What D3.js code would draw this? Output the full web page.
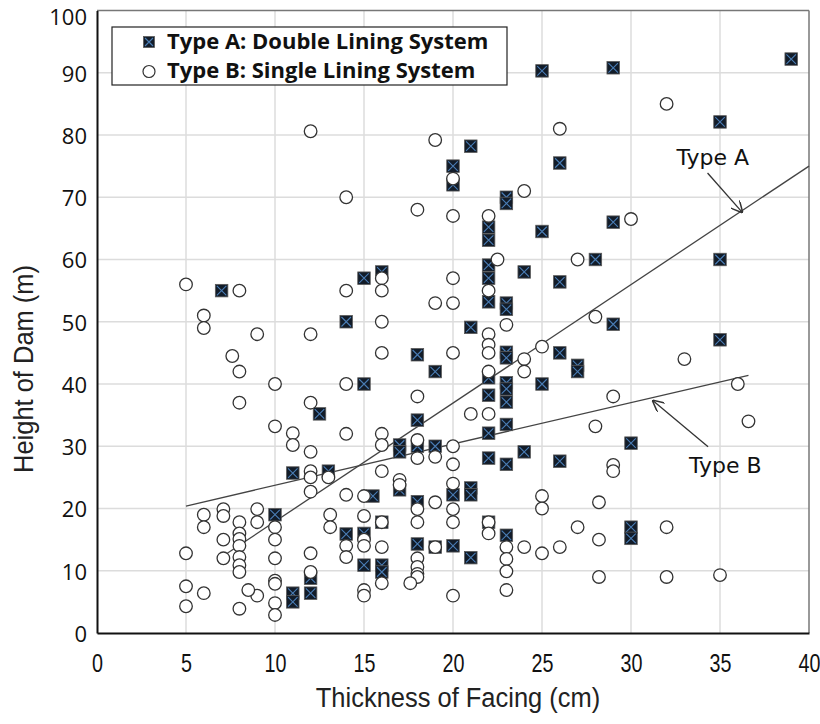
<!DOCTYPE html>
<html>
<head>
<meta charset="utf-8">
<script src="https://cdn.jsdelivr.net/npm/d3@7"></script>
<style>
  body { margin: 0; background: #fff; }
  .tick-y { font-family: "Open Sans", sans-serif; font-size: 22px; fill: #111; }
  .tick-x { font-family: "Liberation Sans", Arial, sans-serif; font-size: 26px; fill: #111; }
  .axis-title { font-family: "Liberation Sans", Arial, sans-serif; font-size: 28px; fill: #222; }
  .legend-text { font-family: "Open Sans", sans-serif; font-weight: bold; font-size: 22px; fill: #111; }
  .note { font-family: "DejaVu Sans", sans-serif; font-size: 22px; fill: #111; }
</style>
</head>
<body>
<div id="chart"></div>
<script>
var svgWidth = 820;
var svgHeight = 724;

var margin = { top: 10.5, right: 11, bottom: 91, left: 97 };
var width = svgWidth - margin.left - margin.right;
var height = svgHeight - margin.top - margin.bottom;

// Type A: Double Lining System (thickness cm, height m)
var typeAX = [7, 39, 25, 29, 35, 21, 20, 20, 26, 23, 23, 22, 22, 25, 28, 22, 16, 15, 22, 24,
  26, 22, 23, 23, 14, 21, 23, 23, 26, 27, 27, 18, 19, 22, 23, 23, 15, 25, 22, 23,
  29, 35, 29, 35, 30, 30, 30, 18, 23, 22, 12.5, 17, 17, 18, 19, 22, 23, 24, 26, 17,
  15.5, 20, 21, 21, 18, 16, 22, 23, 14, 15, 18, 19, 20, 21, 15, 16, 16, 11, 13, 10,
  12, 12, 11, 11];
var typeAY = [55, 92.2, 90.3, 90.8, 82.1, 78.2, 75, 72, 75.5, 70, 69, 65.2, 63.1, 64.5, 60, 59.1, 58, 57, 57, 58,
  56.4, 53.2, 53, 52, 50, 49.1, 45.1, 44.2, 45, 43, 42, 44.7, 42, 41, 40.2, 39.2, 40, 40, 38.2, 37.1,
  66, 60, 49.6, 47.1, 30.5, 17, 15.2, 34.2, 33.5, 32.1, 35.2, 30.2, 29.1, 30, 30, 28.1, 27.1, 29.1, 27.6, 23,
  22, 22.2, 23.3, 22.2, 21.1, 17.8, 17.8, 15.7, 15.9, 16, 14.3, 13.8, 14, 12.1, 10.9, 10.9, 9.8, 25.7, 26, 19,
  8.8, 6.4, 6.4, 5];

// Type B: Single Lining System
var typeBX = [5, 8, 6, 6, 9, 12, 7.6, 8, 10, 14, 8, 12, 10, 11, 11, 12, 14, 12, 12, 13,
  12, 14, 6, 6, 7.1, 7.1, 8, 9, 9, 13.1, 13.1, 10, 7.1, 8, 8, 8, 8, 8, 8, 10,
  10, 5, 7.1, 12, 14, 14, 12, 10, 10, 10, 10, 9, 8.5, 8, 5, 6, 5,
  12, 14, 14, 16, 16, 16, 16, 20, 18, 20, 22, 22.5, 27, 20, 22, 19, 20, 23, 22, 22,
  22, 24, 24, 25, 22, 18, 21, 22, 28, 28, 26, 19, 20, 24, 32, 30, 33, 36, 29, 36.6,
  29, 29, 28.2, 27, 32, 28.2, 28.2, 32, 35,
  16, 16, 18, 20, 18, 19, 20, 16, 17, 17, 15, 20, 19, 20, 18, 15, 16, 18, 20, 22,
  25, 25, 22, 15, 15, 16, 18, 18, 18, 18, 19, 23, 23, 23, 23, 24, 25, 26, 17.6, 20,
  16, 15, 15];
var typeBY = [56, 55, 51, 49, 48, 48, 44.5, 42, 40, 40, 37, 37, 33.2, 32.1, 30.2, 29.1, 32, 26, 25, 25,
  22.7, 22.2, 19, 17, 19.9, 18.8, 17.8, 19.9, 17.8, 19, 17, 17, 15, 16, 15.1, 14, 12.2, 10.9, 9.8, 15,
  12, 12.8, 12, 12.8, 14, 12.2, 9.8, 8.4, 7.9, 4.8, 2.9, 6, 6.9, 3.9, 7.5, 6.4, 4.3,
  80.6, 70, 55, 57, 55, 50, 45, 45, 68, 67, 67, 60, 60, 57, 55, 53, 53, 49.5, 48, 46.3,
  45, 44, 42, 46, 42, 38, 35.2, 35.2, 33.2, 50.8, 81, 79.2, 73, 71, 85, 66.5, 44, 40, 38, 34,
  27, 26, 21, 17, 17, 15, 9, 9, 9.3,
  32, 30.2, 31, 30, 28.1, 28.3, 27.1, 26, 24.6, 23.8, 22, 24, 21, 19.9, 19.9, 18.8, 17.8, 17.8, 17.8, 17.8,
  22, 20, 16, 15, 14, 13.8, 12, 10.6, 9.5, 9, 13.8, 13.8, 11.9, 9.9, 6.9, 13.8, 12.8, 13.8, 8, 6,
  8, 6.9, 6];

// trend lines (end points)
var lineAX = [7, 40];
var lineAY = [12.2, 75];
var lineBX = [5, 36.6];
var lineBY = [20.4, 41.4];

var xTicks = [0, 5, 10, 15, 20, 25, 30, 35, 40];
var yTicks = [0, 10, 20, 30, 40, 50, 60, 70, 80, 90, 100];

var legendLabels = ["Type A: Double Lining System", "Type B: Single Lining System"];

// annotation labels with arrows
var noteLabels = ["Type A", "Type B"];
var noteTextX = [34.6, 35.3];
var noteTextY = [75.2, 25.7];
var arrowFromX = [34.3, 34.33];
var arrowFromY = [73.9, 29.9];
var arrowToX = [36.24, 31.24];
var arrowToY = [67.6, 37.3];

var svg = d3.select("#chart")
  .append("svg")
  .attr("width", svgWidth)
  .attr("height", svgHeight);

svg.append("defs").append("marker")
  .attr("id", "arrow")
  .attr("viewBox", "0 0 10 10")
  .attr("refX", 9)
  .attr("refY", 5)
  .attr("markerWidth", 9)
  .attr("markerHeight", 9)
  .attr("orient", "auto")
  .append("path")
  .attr("d", "M0,0 L10,5 L0,10")
  .attr("fill", "none")
  .attr("stroke", "#333")
  .attr("stroke-width", 1.3);

var chart = svg.append("g")
  .attr("transform", `translate(${margin.left}, ${margin.top})`);

var xScale = d3.scaleLinear().domain([0, 40]).range([0, width]);
var yScale = d3.scaleLinear().domain([0, 100]).range([height, 0]);

// gridlines
chart.append("g")
  .selectAll("line")
  .data(xTicks.slice(1, -1))
  .enter()
  .append("line")
  .attr("x1", d => xScale(d)).attr("x2", d => xScale(d))
  .attr("y1", 0).attr("y2", height)
  .attr("stroke", "#dcdcdc").attr("stroke-width", 1.5);

chart.append("g")
  .selectAll("line")
  .data(yTicks.slice(1, -1))
  .enter()
  .append("line")
  .attr("x1", 0).attr("x2", width)
  .attr("y1", d => yScale(d)).attr("y2", d => yScale(d))
  .attr("stroke", "#dcdcdc").attr("stroke-width", 1.5);

// frame: top/right thin grey, left/bottom black
chart.append("line").attr("x1", 0).attr("x2", width).attr("y1", 0).attr("y2", 0)
  .attr("stroke", "#777").attr("stroke-width", 1.5);
chart.append("line").attr("x1", width).attr("x2", width).attr("y1", 0).attr("y2", height)
  .attr("stroke", "#777").attr("stroke-width", 1.5);

// axes (labels only, no tick marks)
var bottomAxis = d3.axisBottom(xScale).tickValues(xTicks).tickSize(0).tickPadding(21);
var leftAxis = d3.axisLeft(yScale).tickValues(yTicks).tickSize(0).tickPadding(10);

var gx = chart.append("g")
  .attr("transform", `translate(0, ${height})`)
  .call(bottomAxis)
  .attr("font-size", null).attr("font-family", null);
gx.select(".domain").attr("stroke", "#111").attr("stroke-width", 2);
gx.selectAll("text")
  .attr("class", "tick-x")
  .attr("transform", "scale(0.76, 1)");

var gy = chart.append("g")
  .call(leftAxis)
  .attr("font-size", null).attr("font-family", null);
gy.select(".domain").attr("stroke", "#111").attr("stroke-width", 2);
gy.selectAll("text")
  .attr("class", "tick-y")
  .attr("dy", d => d === 100 ? "0.62em" : "0.38em");

// axis titles (condensed)
svg.append("text")
  .attr("class", "axis-title")
  .attr("transform", `translate(${margin.left + width / 2 + 5}, 707) scale(0.91, 1)`)
  .attr("text-anchor", "middle")
  .text("Thickness of Facing (cm)");

svg.append("text")
  .attr("class", "axis-title")
  .attr("transform", "translate(33, 369) rotate(-90) scale(0.91, 1)")
  .attr("text-anchor", "middle")
  .text("Height of Dam (m)");

// trend lines
var lineGen = d3.line().x(d => xScale(d[0])).y(d => yScale(d[1]));
chart.append("path")
  .datum(d3.zip(lineAX, lineAY))
  .attr("d", lineGen)
  .attr("fill", "none").attr("stroke", "#444").attr("stroke-width", 1.3);
chart.append("path")
  .datum(d3.zip(lineBX, lineBY))
  .attr("d", lineGen)
  .attr("fill", "none").attr("stroke", "#444").attr("stroke-width", 1.3);

// square marker with X
function drawSquare(sel, s) {
  var h = s / 2;
  sel.append("rect")
    .attr("x", -h).attr("y", -h).attr("width", s).attr("height", s)
    .attr("fill", "#121c29").attr("stroke", "#5a5a5a").attr("stroke-width", 0.8);
  sel.append("path")
    .attr("d", `M${-h + 1.5},${-h + 1.5}L${h - 1.5},${h - 1.5}M${h - 1.5},${-h + 1.5}L${-h + 1.5},${h - 1.5}`)
    .attr("stroke", "#4a7db5").attr("stroke-width", 1.1);
}

var aPoints = d3.zip(typeAX, typeAY);
var bPoints = d3.zip(typeBX, typeBY);

chart.append("g")
  .selectAll("g")
  .data(aPoints)
  .enter()
  .append("g")
  .attr("transform", d => `translate(${xScale(d[0])}, ${yScale(d[1])})`)
  .each(function() { drawSquare(d3.select(this), 12.5); });

chart.append("g")
  .selectAll("circle")
  .data(bPoints)
  .enter()
  .append("circle")
  .attr("cx", d => xScale(d[0]))
  .attr("cy", d => yScale(d[1]))
  .attr("r", 6.3)
  .attr("fill", "#fff")
  .attr("stroke", "#333")
  .attr("stroke-width", 1.3);

// annotations
noteLabels.forEach(function(t, i) {
  chart.append("line")
    .attr("x1", xScale(arrowFromX[i])).attr("y1", yScale(arrowFromY[i]))
    .attr("x2", xScale(arrowToX[i])).attr("y2", yScale(arrowToY[i]))
    .attr("stroke", "#333").attr("stroke-width", 1.3)
    .attr("marker-end", "url(#arrow)");
  chart.append("text")
    .attr("class", "note")
    .attr("x", xScale(noteTextX[i]))
    .attr("y", yScale(noteTextY[i]))
    .attr("text-anchor", "middle")
    .text(t);
});

// legend
var legend = svg.append("g");
legend.append("rect")
  .attr("x", 112).attr("y", 27).attr("width", 395).attr("height", 58)
  .attr("fill", "#fff").attr("stroke", "#222").attr("stroke-width", 1.2);

drawSquare(legend.append("g").attr("transform", "translate(149, 42)"), 11);
legend.append("circle")
  .attr("cx", 149).attr("cy", 71.5).attr("r", 6)
  .attr("fill", "#fff").attr("stroke", "#333").attr("stroke-width", 1.2);

legend.selectAll(".legend-text")
  .data(legendLabels)
  .enter()
  .append("text")
  .attr("class", "legend-text")
  .attr("x", 167)
  .attr("y", (d, i) => 48.5 + i * 29)
  .text(d => d);
</script>
</body>
</html>
